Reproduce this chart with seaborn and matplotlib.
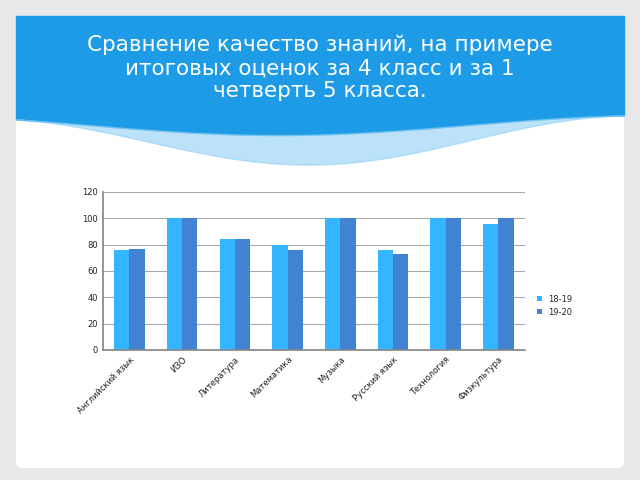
import matplotlib
matplotlib.use("Agg")
import matplotlib.pyplot as plt
import seaborn as sns
import pandas as pd
import numpy as np
from matplotlib.patches import FancyBboxPatch

subjects = ["Английский язык", "ИЗО", "Литература", "Математика", "Музыка",
            "Русский язык", "Технология", "Физкультура"]
s1819 = [76, 100, 84, 80, 100, 76, 100, 96]
s1920 = [77, 100, 84, 76, 100, 73, 100, 100]
series = ["18-19", "19-20"]
title = "Сравнение качество знаний, на примере\nитоговых оценок за 4 класс и за 1\nчетверть 5 класса."

df = pd.DataFrame({"subject": subjects * 2,
                   "value": s1819 + s1920,
                   "series": [series[0]] * 8 + [series[1]] * 8})

sns.set_theme(style="white")
plt.rcParams['font.family'] = ['DejaVu Sans']
fig = plt.figure(figsize=(6.4, 4.8), dpi=100)
fig.patch.set_facecolor("#e8e8e8")

bg = fig.add_axes([0, 0, 1, 1])
bg.set_xlim(0, 640); bg.set_ylim(480, 0); bg.axis("off")
bg.add_patch(FancyBboxPatch((16, 16), 608, 452, boxstyle="round,pad=0,rounding_size=6",
                            fc="white", ec="none"))
x = np.linspace(16, 624, 300)
t = (x - 16) / 608
edge = 125 + 10 * np.sin(t * np.pi * 1.6 - 0.6)
bg.fill_between(x, 16, edge, color="#1d9be6")
bg.fill_between(x, edge, edge + 30 * np.sin(t * np.pi) ** 2, color="#8fd0f5", alpha=0.6)
bg.text(320, 68, title, color="white", fontsize=15.5, ha="center", va="center", linespacing=1.2)

ax = fig.add_axes([0.161, 0.271, 0.659, 0.329])
sns.barplot(data=df, x="subject", y="value", hue="series", ax=ax,
            palette=["#33b5ff", "#4282d3"], width=0.58, saturation=1, edgecolor="none")
ax.set_ylim(0, 120)
ax.set_xlim(-0.5, 7.5)
ax.set_yticks(range(0, 121, 20))
ax.yaxis.grid(True, color="#aaaaaa", lw=0.8)
ax.set_axisbelow(True)
ax.set_xlabel(""); ax.set_ylabel("")
for s in ["top", "right"]:
    ax.spines[s].set_visible(False)
for s in ["left", "bottom"]:
    ax.spines[s].set_color("#888888")
ax.tick_params(axis="both", labelsize=6, colors="#222222", length=0)
ax.set_xticks(range(8))
ax.set_xticks(np.arange(-0.5, 8, 1), minor=True)
ax.tick_params(axis="x", which="minor", length=3, color="#888888")
ax.set_xticklabels(subjects, rotation=45, ha="right", rotation_mode="anchor")
ax.legend(loc="center left", bbox_to_anchor=(1.01, 0.28), frameon=False, fontsize=6,
          handlelength=0.6, handleheight=0.6)
fig.savefig("out.png", dpi=100, facecolor=fig.get_facecolor())
